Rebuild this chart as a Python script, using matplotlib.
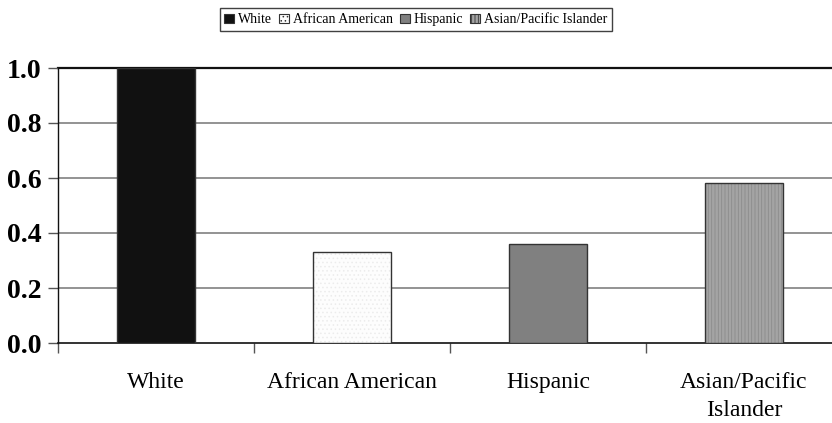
import matplotlib
matplotlib.use("Agg")
import matplotlib.pyplot as plt
from matplotlib.patches import Patch
import numpy as np

plt.rcParams['font.family'] = ['Liberation Serif', 'DejaVu Serif']
plt.rcParams['hatch.linewidth'] = 0.6

categories = ["White", "African American", "Hispanic", "Asian/Pacific Islander"]
tick_labels = ["White", "African American", "Hispanic", "Asian/Pacific\nIslander"]
values = [1.0, 0.33, 0.36, 0.58]
y_ticks = [0.0, 0.2, 0.4, 0.6, 0.8, 1.0]

faces = ["#111111", "#fdfdfd", "#808080", "#a4a4a4"]
hatches = [None, "....", None, "|||||"]
hatch_cols = ["#111111", "#ececec", "#808080", "#8c8c8c"]

fig = plt.figure(figsize=(8.32, 4.23), dpi=100)
ax = fig.add_axes([58 / 832, 80 / 423, 1 - 58 / 832, 275 / 423])

x = np.arange(len(categories))
for xi, v, fc, h, hc in zip(x, values, faces, hatches, hatch_cols):
    ax.bar(xi, v, width=0.40, color=fc, hatch=h, edgecolor=hc, linewidth=0, zorder=3)
    ax.bar(xi, v, width=0.40, color="none", edgecolor="#333333", linewidth=1.0, zorder=4)

ax.set_xlim(-0.5, 3.45)
ax.set_ylim(0, 1.0)

for t in y_ticks[1:-1]:
    ax.axhline(t, color="#808080", linewidth=1.2, zorder=1)
ax.axhline(1.0, color="#111111", linewidth=1.6, zorder=1, clip_on=False)

for s in ["top", "right"]:
    ax.spines[s].set_visible(False)
ax.spines["left"].set_color("#111111")
ax.spines["bottom"].set_color("#111111")
ax.spines["left"].set_linewidth(1.0)
ax.spines["bottom"].set_linewidth(1.2)

ax.set_yticks(y_ticks)
ax.set_yticklabels([f"{t:.1f}" for t in y_ticks], fontsize=20, fontweight="bold")
ax.tick_params(axis="y", direction="out", length=7, width=1.0, color="#555555", pad=5)

ax.set_xticks(x)
ax.set_xticklabels(tick_labels, fontsize=17, linespacing=1.4)
ax.tick_params(axis="x", length=0, pad=21)
ax.set_xticks(np.arange(-0.5, 3.5, 1.0), minor=True)
ax.tick_params(axis="x", which="minor", direction="out", length=7, width=1.0, color="#555555")

handles = [Patch(facecolor=fc, edgecolor="#333333", hatch=h, linewidth=0.8)
           for fc, h in zip(faces, hatches)]
leg = fig.legend(handles, categories, loc="upper center", bbox_to_anchor=(0.5, 0.99),
                 ncol=4, frameon=True, fancybox=False, edgecolor="#111111",
                 fontsize=10, handlelength=0.7, handleheight=0.7, handletextpad=0.3,
                 columnspacing=0.5, borderpad=0.35, borderaxespad=0.3)
leg.get_frame().set_linewidth(1.0)

fig.savefig("out.png", dpi=100)
